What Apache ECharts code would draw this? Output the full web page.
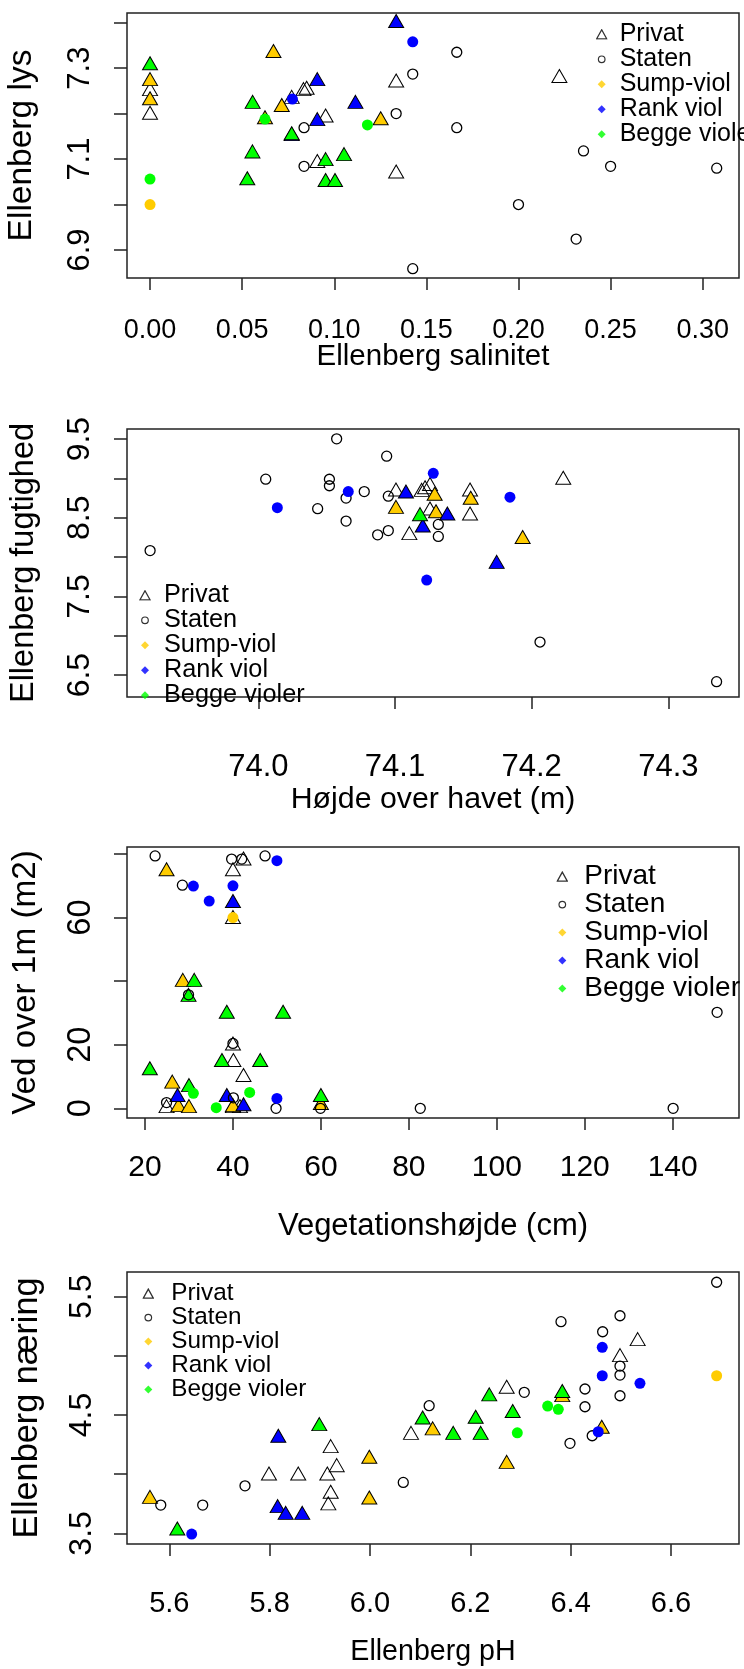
<!DOCTYPE html>
<html><head><meta charset="utf-8">
<script src="https://cdn.jsdelivr.net/npm/echarts@6/dist/echarts.min.js"></script>
<style>html,body{margin:0;padding:0;background:#fff}#c{width:744px;height:1669px}</style>
</head><body><div id="c"></div>
<script>
// ---- data: [x, y, owner (P=Privat, S=Staten), species (- none, S=Sump-viol, R=Rank viol, B=Begge violer)]
const salinityLight = [
  [0,7.249,'P','-'],[0,7.197,'P','-'],[0.0769,7.232,'P','-'],[0.0833,7.249,'P','-'],[0.0850,7.252,'P','-'],
  [0.0953,7.191,'P','-'],[0.0908,7.091,'P','-'],[0.1336,7.268,'P','-'],[0.1336,7.068,'P','-'],[0.2222,7.278,'P','-'],
  [0,7.271,'P','S'],[0,7.229,'P','S'],[0.067,7.333,'P','S'],[0.0715,7.214,'P','S'],[0.0624,7.187,'P','S'],[0.1252,7.185,'P','S'],
  [0.0908,7.271,'P','R'],[0.0769,7.150,'P','R'],[0.0908,7.183,'P','R'],[0.1115,7.221,'P','R'],[0.1336,7.399,'P','R'],
  [0,7.306,'P','B'],[0.0557,7.221,'P','B'],[0.0769,7.152,'P','B'],[0.0556,7.112,'P','B'],[0.0528,7.053,'P','B'],
  [0.0953,7.095,'P','B'],[0.1053,7.106,'P','B'],[0.0953,7.049,'P','B'],[0.1004,7.049,'P','B'],
  [0.0836,7.169,'S','-'],[0.0836,7.084,'S','-'],[0.1426,7.287,'S','-'],[0.1336,7.200,'S','-'],[0.1426,6.859,'S','-'],
  [0.1665,7.335,'S','-'],[0.1665,7.169,'S','-'],[0.2353,7.118,'S','-'],[0.25,7.084,'S','-'],[0.3076,7.080,'S','-'],
  [0.2,7.0,'S','-'],[0.2313,6.924,'S','-'],
  [0,7.0,'S','S'],
  [0.0773,7.232,'S','R'],[0.1426,7.358,'S','R'],
  [0,7.056,'S','B'],[0.0624,7.188,'S','B'],[0.118,7.175,'S','B']
];
const heightMoisture = [
  [74.1007,8.831,'P','-'],[74.1195,8.827,'P','-'],[74.122,8.86,'P','-'],[74.1256,8.902,'P','-'],[74.1105,8.277,'P','-'],
  [74.1256,8.589,'P','-'],[74.1549,8.831,'P','-'],[74.1549,8.527,'P','-'],[74.2231,8.981,'P','-'],
  [74.129,8.777,'P','S'],[74.1007,8.611,'P','S'],[74.13,8.556,'P','S'],[74.1554,8.727,'P','S'],[74.1934,8.227,'P','S'],
  [74.108,8.806,'P','R'],[74.1203,8.373,'P','R'],[74.1383,8.527,'P','R'],[74.1744,7.911,'P','R'],
  [74.1183,8.518,'P','B'],
  [73.9208,8.083,'S','-'],[74.0573,9.504,'S','-'],[74.0939,9.283,'S','-'],[74.0054,8.991,'S','-'],[74.052,8.99,'S','-'],
  [74.052,8.907,'S','-'],[74.0642,8.75,'S','-'],[74.0775,8.833,'S','-'],[74.0951,8.775,'S','-'],[74.0434,8.616,'S','-'],
  [74.0642,8.458,'S','-'],[74.0873,8.283,'S','-'],[74.0951,8.337,'S','-'],[74.1317,8.416,'S','-'],[74.1317,8.263,'S','-'],
  [74.2061,6.92,'S','-'],[74.3353,6.416,'S','-'],
  [74.128,9.066,'S','R'],[74.0658,8.833,'S','R'],[74.0139,8.629,'S','R'],[74.1232,7.708,'S','R'],[74.1841,8.762,'S','R']
];
const vegWood = [
  [42.4,77.9,'P','-'],[40.0,74.5,'P','-'],[40.0,59.5,'P','-'],[40.0,19.7,'P','-'],[40.1,14.5,'P','-'],[42.4,9.8,'P','-'],
  [24.9,0,'P','-'],[40.0,0,'P','-'],[41.6,0,'P','-'],
  [24.9,74.5,'P','S'],[28.6,39.7,'P','S'],[26.2,7.7,'P','S'],[27.6,0.3,'P','S'],[30.0,0,'P','S'],[40.0,0.3,'P','S'],[60.0,1.0,'P','S'],
  [40.0,64.5,'P','R'],[27.4,3.5,'P','R'],[38.6,3.5,'P','R'],[42.4,0.6,'P','R'],
  [31.2,39.7,'P','B'],[29.9,35.0,'P','B'],[38.6,29.7,'P','B'],[51.4,29.7,'P','B'],[37.5,14.5,'P','B'],[46.2,14.5,'P','B'],
  [21.1,11.9,'P','B'],[30.0,6.6,'P','B'],[60.0,3.5,'P','B'],
  [22.3,79.4,'S','-'],[28.5,70.2,'S','-'],[39.7,78.4,'S','-'],[42.0,78.4,'S','-'],[47.3,79.4,'S','-'],[29.9,35.7,'S','-'],
  [40.0,20.4,'S','-'],[24.9,1.8,'S','-'],[40.1,3.3,'S','-'],[49.8,0,'S','-'],[59.9,0,'S','-'],[82.6,0,'S','-'],
  [150.1,30.2,'S','-'],[140.1,0,'S','-'],
  [40.0,60.0,'S','S'],
  [31.0,69.9,'S','R'],[34.6,65.2,'S','R'],[50.0,77.9,'S','R'],[40.0,70.0,'S','R'],[50.0,3.1,'S','R'],
  [31.0,4.7,'S','B'],[36.2,0.2,'S','B'],[43.8,5.0,'S','B']
];
const phNutrient = [
  [5.7987,3.988,'P','-'],[5.857,3.988,'P','-'],[5.915,3.988,'P','-'],[5.9337,4.058,'P','-'],[5.9217,4.219,'P','-'],
  [5.9217,3.833,'P','-'],[5.917,3.735,'P','-'],[6.0818,4.331,'P','-'],[6.2725,4.72,'P','-'],[6.4984,4.988,'P','-'],[6.5336,5.123,'P','-'],
  [5.5615,3.79,'P','S'],[5.9987,4.129,'P','S'],[5.9987,3.785,'P','S'],[6.125,4.369,'P','S'],[6.2725,4.086,'P','S'],[6.3833,4.65,'P','S'],[6.462,4.382,'P','S'],
  [5.8173,4.306,'P','R'],[5.816,3.712,'P','R'],[5.832,3.655,'P','R'],[5.865,3.655,'P','R'],
  [5.616,3.523,'P','B'],[5.899,4.405,'P','B'],[6.105,4.461,'P','B'],[6.166,4.331,'P','B'],[6.2107,4.467,'P','B'],
  [6.2207,4.331,'P','B'],[6.2378,4.656,'P','B'],[6.2845,4.515,'P','B'],[6.3833,4.684,'P','B'],
  [5.583,3.739,'S','-'],[5.6666,3.739,'S','-'],[5.7509,3.902,'S','-'],[6.0664,3.931,'S','-'],[6.118,4.579,'S','-'],
  [6.3076,4.692,'S','-'],[6.3808,5.289,'S','-'],[6.4286,4.72,'S','-'],[6.4286,4.57,'S','-'],[6.3987,4.261,'S','-'],
  [6.443,4.325,'S','-'],[6.4638,5.204,'S','-'],[6.4984,5.339,'S','-'],[6.4984,4.914,'S','-'],[6.4984,4.838,'S','-'],
  [6.4984,4.663,'S','-'],[6.691,5.622,'S','-'],
  [6.691,4.832,'S','S'],
  [5.6446,3.494,'S','R'],[6.455,4.359,'S','R'],[6.463,5.072,'S','R'],[6.463,4.832,'S','R'],[6.5382,4.768,'S','R'],
  [6.2937,4.35,'S','B'],[6.3542,4.576,'S','B'],[6.3754,4.548,'S','B']
];
// ---- tick values and labels
const xTicks1 = [0,0.05,0.10,0.15,0.20,0.25,0.30], xLabels1 = xTicks1;
const yTicks1 = [6.9,7.0,7.1,7.2,7.3,7.4], yLabels1 = [6.9,7.1,7.3];
const xTicks2 = [74.0,74.1,74.2,74.3], xLabels2 = xTicks2;
const yTicks2 = [6.5,7.0,7.5,8.0,8.5,9.0,9.5], yLabels2 = [6.5,7.5,8.5,9.5];
const xTicks3 = [20,40,60,80,100,120,140], xLabels3 = xTicks3;
const yTicks3 = [0,20,40,60,80], yLabels3 = [0,20,60];
const xTicks4 = [5.6,5.8,6.0,6.2,6.4,6.6], xLabels4 = xTicks4;
const yTicks4 = [3.5,4.0,4.5,5.0,5.5], yLabels4 = [3.5,4.5,5.5];
const legendNames = ['Privat','Staten','Sump-viol','Rank viol','Begge violer'];
const titles = [
  ['Ellenberg salinitet','Ellenberg lys'],
  ['Højde over havet (m)','Ellenberg fugtighed'],
  ['Vegetationshøjde (cm)','Ved over 1m (m2)'],
  ['Ellenberg pH','Ellenberg næring']
];

// ---- styling
const FONT = 'Liberation Sans, Arial, sans-serif';
const COL = {S:'#FFCC00', R:'#0000FF', B:'#00FF00'};
const grids = [
  {top:13, height:265, xr:[-0.0125,0.3197], yr:[6.8384,7.4213], xd:2, yd:1, xm:39.5, ym:31, xg:64, yg:88, xf:27, yf:31, xtf:29.5, ytf:33.5},
  {top:429, height:268, xr:[73.9039,74.3517], yr:[6.2213,9.6288], xd:1, yd:1, xm:55, ym:31, xg:88, yg:86, xf:31, yf:32, xtf:30.3, ytf:32.5},
  {top:847, height:271, xr:[15.907,155.08], yr:[-3.05,82.2], xd:0, yd:0, xm:35, ym:29, xg:93, yg:85, xf:30, yf:32.5, xtf:31, ytf:33.3},
  {top:1272, height:272, xr:[5.5157,6.7356], yr:[3.4104,5.7088], xd:1, yd:1, xm:45, ym:29, xg:94, yg:82, xf:29, yf:32, xtf:28.6, ytf:34.3}
];
const ticks = [[xTicks1,xLabels1,yTicks1,yLabels1],[xTicks2,xLabels2,yTicks2,yLabels2],[xTicks3,xLabels3,yTicks3,yLabels3],[xTicks4,xLabels4,yTicks4,yLabels4]];
const legendPos = [
  {left:595.7, top:21.8, gap:20.7, pad:7, fs:25},
  {left:139, top:582.8, gap:20.8, pad:8, fs:25.3},
  {left:556.3, top:862.6, gap:21.4, pad:11, fs:28},
  {left:142.3, top:1281.6, gap:21.1, pad:12, fs:24.3}
];
const svgIcon = (inner) => 'image://data:image/svg+xml;utf8,' + encodeURIComponent(
  '<svg xmlns="http://www.w3.org/2000/svg" width="12" height="11" viewBox="0 0 12 11">' + inner + '</svg>');
const icons = {
  'Privat': svgIcon('<polygon points="6,1 11,10 1,10" fill="none" stroke="#000" stroke-width="1.3"/>'),
  'Staten': svgIcon('<circle cx="6" cy="5.5" r="3.3" fill="none" stroke="#000" stroke-width="1.2"/>'),
  'Sump-viol': svgIcon('<polygon points="6,1.5 10,5.5 6,9.5 2,5.5" fill="' + COL.S + '"/>'),
  'Rank viol': svgIcon('<polygon points="6,1.5 10,5.5 6,9.5 2,5.5" fill="' + COL.R + '"/>'),
  'Begge violer': svgIcon('<polygon points="6,1.5 10,5.5 6,9.5 2,5.5" fill="' + COL.B + '"/>')
};

function panelSeries(rows, gi) {
  const groups = [['P','-'],['P','S'],['P','R'],['P','B'],['S','-'],['S','S'],['S','R'],['S','B']];
  return groups.map(([o, s]) => {
    const tri = o === 'P', filled = s !== '-';
    return {
      type:'scatter', name:'p'+gi+o+s, xAxisIndex:gi, yAxisIndex:gi,
      data: rows.filter(r => r[2] === o && r[3] === s).map(r => [r[0], r[1]]),
      symbol: tri ? 'triangle' : 'circle',
      symbolSize: tri ? [15,13] : (filled ? 11 : 10),
      symbolOffset: tri ? [0,-2.2] : [0,0],
      itemStyle: {
        color: filled ? COL[s] : 'rgba(0,0,0,0)',
        borderColor: (tri || !filled) ? '#000' : COL[s],
        borderWidth: tri ? 1 : (filled ? 0 : 1.3),
        opacity: 1
      },
      emphasis:{disabled:true}, silent:true, animation:false
    };
  });
}

const gridList = grids.map(g => ({left:127, right:5, top:g.top, height:g.height, show:true,
    borderColor:'#222', borderWidth:1.5, backgroundColor:'transparent', outerBoundsMode:'none'}));
gridList.push({left:0, top:0, width:1, height:1, show:false, outerBoundsMode:'none'});
const xAxes = grids.map((g, i) => ({
    type:'value', gridIndex:i, min:g.xr[0], max:g.xr[1], position:'bottom',
    name: titles[i][0], nameLocation:'middle', nameGap:g.xg, nameMoveOverlap:false,
    nameTextStyle:{fontFamily:FONT, fontSize:g.xtf, color:'#000'},
    axisLine:{show:false, onZero:false}, splitLine:{show:false},
    axisTick:{show:true, inside:false, length:12, customValues:ticks[i][0], lineStyle:{color:'#222', width:1.5}},
    axisLabel:{show:true, customValues:ticks[i][1], margin:g.xm, fontFamily:FONT, fontSize:g.xf, color:'#000',
      hideOverlap:false, formatter: v => Number(v).toFixed(g.xd)}
  }));
xAxes.push({type:'value', gridIndex:4, show:false});
const yAxes = grids.map((g, i) => ({
    type:'value', gridIndex:i, min:g.yr[0], max:g.yr[1], position:'left',
    name: titles[i][1], nameLocation:'middle', nameGap:g.yg, nameRotate:90, nameMoveOverlap:false,
    nameTextStyle:{fontFamily:FONT, fontSize:g.ytf, color:'#000'},
    axisLine:{show:false, onZero:false}, splitLine:{show:false},
    axisTick:{show:true, inside:false, length:13, customValues:ticks[i][2], lineStyle:{color:'#222', width:1.5}},
    axisLabel:{show:true, customValues:ticks[i][3], margin:g.ym, rotate:90, align:'center', verticalAlign:'bottom',
      fontFamily:FONT, fontSize:g.yf, color:'#000', hideOverlap:false, formatter: v => Number(v).toFixed(g.yd)}
  }));
yAxes.push({type:'value', gridIndex:4, show:false});

const option = {
  backgroundColor:'#fff', animation:false,
  grid: gridList, xAxis: xAxes, yAxis: yAxes,
  legend: legendPos.map(p => ({
    orient:'vertical', left:p.left, top:p.top, padding:0, itemGap:0,
    itemWidth:12, itemHeight:11, selectedMode:false,
    data: legendNames.map(n => ({name:n, icon:icons[n]})),
    textStyle:{fontFamily:FONT, fontSize:p.fs, color:'#000', lineHeight:p.gap, padding:[0,0,0,p.pad]}
  })),
  series: [
    ...panelSeries(salinityLight, 0),
    ...panelSeries(heightMoisture, 1),
    ...panelSeries(vegWood, 2),
    ...panelSeries(phNutrient, 3),
    ...legendNames.map(n => ({type:'scatter', name:n, xAxisIndex:4, yAxisIndex:4, data:[], silent:true}))
  ]
};
const chart = echarts.init(document.getElementById('c'), null, {renderer:'canvas'});
chart.setOption(option);
</script></body></html>
